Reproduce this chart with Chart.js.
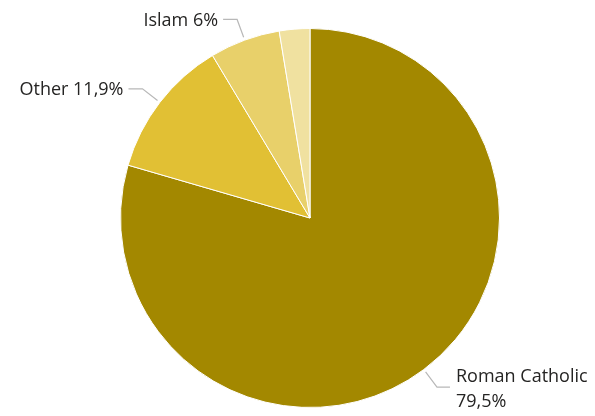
<!DOCTYPE html>
<html>
<head>
<meta charset="utf-8">
<script src="https://cdn.jsdelivr.net/npm/chart.js@4.4.0/dist/chart.umd.min.js"></script>
<style>
  html, body { margin: 0; padding: 0; background: #fff; }
  #wrap { width: 595px; height: 416px; }
</style>
</head>
<body>
<div id="wrap"><canvas id="pie" width="595" height="416"></canvas></div>
<script>
const categories = ['Roman Catholic', 'Other', 'Islam', ''];
const shares = [79.5, 11.9, 6, 2.6];
const colours = ['#A38800', '#E1C034', '#E8D06A', '#F0E1A0'];

const fmt = v => String(v).replace('.', ',') + '%';

// etiquetes amb linia guia fora del pastis
const leaderLabels = {
    id: 'leaderLabels',
    afterDatasetsDraw(chart) {
        const ctx = chart.ctx;
        const meta = chart.getDatasetMeta(0);
        ctx.save();
        ctx.font = '18px "Open Sans", sans-serif';
        ctx.textBaseline = 'middle';
        meta.data.forEach((arc, i) => {
            if (!categories[i]) return;
            const mid = (arc.startAngle + arc.endAngle) / 2;
            const r = arc.outerRadius;
            const cx = arc.x, cy = arc.y;
            const x0 = cx + Math.cos(mid) * (r + 3), y0 = cy + Math.sin(mid) * (r + 3);
            const x1 = cx + Math.cos(mid) * (r + 22), y1 = cy + Math.sin(mid) * (r + 22);
            const right = Math.cos(mid) >= 0;
            const x2 = x1 + (right ? 13 : -14);
            ctx.strokeStyle = '#b8b8b8';
            ctx.lineWidth = 1.2;
            ctx.beginPath();
            ctx.moveTo(x0, y0); ctx.lineTo(x1, y1); ctx.lineTo(x2, y1);
            ctx.stroke();
            ctx.fillStyle = '#252423';
            const txt = categories[i] + ' ' + fmt(shares[i]);
            const tx = x2 + (right ? 6 : -5);
            if (right && tx + ctx.measureText(txt).width > chart.width) {
                ctx.textAlign = 'left';
                ctx.fillText(categories[i], tx, y1 - 10);
                ctx.fillText(fmt(shares[i]), tx, y1 + 15);
            } else {
                ctx.textAlign = right ? 'left' : 'right';
                ctx.fillText(txt, tx, y1 + 1);
            }
        });
        ctx.restore();
    }
};

new Chart(document.getElementById('pie'), {
    type: 'pie',
    data: {
        labels: categories,
        datasets: [{ data: shares, backgroundColor: colours, borderColor: '#fff', borderWidth: 1 }]
    },
    options: {
        responsive: false, animation: false,
        layout: { padding: { top: 28, bottom: 8, left: 120, right: 95 } },
        plugins: { legend: { display: false }, tooltip: { enabled: false } }
    },
    plugins: [leaderLabels]
});
</script>
</body>
</html>
